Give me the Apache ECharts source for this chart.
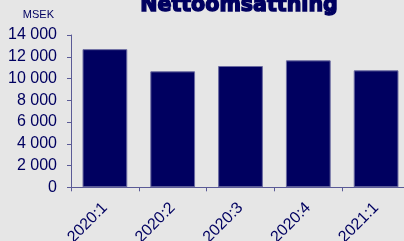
<!DOCTYPE html>
<html>
<head>
<meta charset="utf-8">
<script src="https://cdn.jsdelivr.net/npm/echarts@6/dist/echarts.min.js"></script>
<style>
html,body{margin:0;padding:0;background:#e6e6e6;overflow:hidden;}
#c{width:404px;height:241px;}
</style>
</head>
<body>
<div id="c"></div>
<script>
const titleText = 'Nettoomsättning';
const unitName = 'MSEK';
const categories = ['2020:1', '2020:2', '2020:3', '2020:4', '2021:1'];
const salesValues = [12700, 10660, 11150, 11670, 10750];

const navy = '#000060';
const axisCol = '#5a5a96';

const chart = echarts.init(document.getElementById('c'), null, {renderer: 'canvas'});
chart.setOption({
  backgroundColor: '#e6e6e6',
  animation: false,
  title: {
    text: titleText,
    left: 234,
    textAlign: 'center',
    top: -10,
    textStyle: {fontFamily: 'DejaVu Sans', fontWeight: 'bold', fontSize: 20.6, color: navy, textBorderColor: navy, textBorderWidth: 1.4}
  },
  grid: {left: 71, right: -6, top: 35, bottom: 53.7, containLabel: false, outerBoundsMode: 'none'},
  xAxis: {
    type: 'category',
    data: categories,
    axisLine: {lineStyle: {color: axisCol, width: 1}},
    axisTick: {show: true, length: 4, lineStyle: {color: axisCol}},
    axisLabel: {rotate: 45, fontSize: 16, fontFamily: 'Liberation Sans', color: navy, margin: 18, interval: 0}
  },
  yAxis: {
    type: 'value',
    min: 0,
    max: 14000,
    interval: 2000,
    name: unitName,
    nameLocation: 'end',
    nameGap: 20,
    nameTextStyle: {fontSize: 11, fontFamily: 'Liberation Sans', color: navy, align: 'right', verticalAlign: 'middle', padding: [0, 17, 0, 0]},
    axisLine: {show: true, lineStyle: {color: axisCol, width: 1}},
    axisTick: {show: true, length: 4, lineStyle: {color: axisCol}},
    splitLine: {show: false},
    axisLabel: {
      fontSize: 16, fontFamily: 'Liberation Sans', color: navy, margin: 14,
      formatter: v => v >= 1000 ? String(v).replace(/\B(?=(\d{3})+(?!\d))/g, ' ') : String(v)
    }
  },
  series: [{
    type: 'bar',
    data: salesValues,
    barCategoryGap: '34%',
    itemStyle: {color: navy, borderColor: '#6a6aa0', borderWidth: 1}
  }]
});
</script>
</body>
</html>
